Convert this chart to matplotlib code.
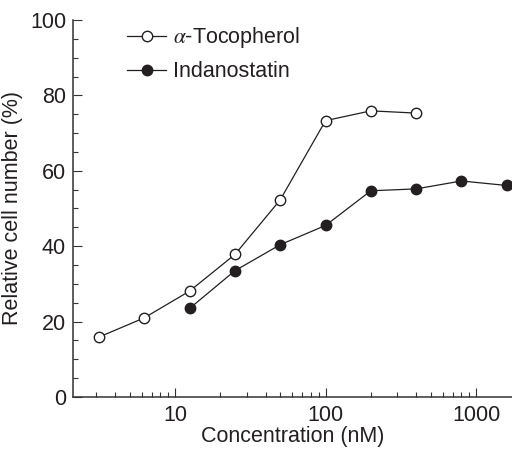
#!/usr/bin/env python3
"""Relative cell number vs concentration for alpha-tocopherol and indanostatin."""

import matplotlib

matplotlib.use("Agg")
import matplotlib.pyplot as plt  # noqa: E402
from matplotlib.ticker import LogLocator, MultipleLocator, NullFormatter  # noqa: E402

plt.rcParams["font.family"] = ["Liberation Sans", "DejaVu Sans"]
plt.rcParams["mathtext.fontset"] = "stix"

TOCO_CONC = [3.125, 6.25, 12.5, 25, 50, 100, 200, 400]
TOCO_VALUES = [15.9, 21.0, 28.1, 37.8, 52.3, 73.3, 75.9, 75.3]
INDA_CONC = [12.5, 25, 50, 100, 200, 400, 800, 1600]
INDA_VALUES = [23.5, 33.5, 40.4, 45.5, 54.7, 55.2, 57.3, 56.1]

INK = "#231f20"
FS = 15.5

fig = plt.figure(figsize=(5.12, 4.49), dpi=100)
ax = fig.add_axes([0.1426, 0.1158, 0.8574, 0.8397])

ax.plot(TOCO_CONC, TOCO_VALUES, "-o", color=INK, lw=0.9, ms=7.5,
        mfc="white", mec=INK, mew=1.0, label=r"$\alpha$-Tocopherol", clip_on=False)
ax.plot(INDA_CONC, INDA_VALUES, "-o", color=INK, lw=0.9, ms=7.5,
        mfc=INK, mec=INK, mew=1.0, label="Indanostatin")

ax.set_xscale("log")
ax.set_xlim(2.1, 1733)
ax.set_ylim(0, 100)
ax.xaxis.set_minor_locator(LogLocator(base=10, subs=range(2, 10), numticks=20))
ax.xaxis.set_minor_formatter(NullFormatter())
ax.set_xticks([10, 100, 1000])
ax.set_xticklabels(["10", "100", "1000"])
ax.yaxis.set_major_locator(MultipleLocator(20))
ax.yaxis.set_minor_locator(MultipleLocator(5))

for side in ("top", "right"):
    ax.spines[side].set_visible(False)
for side in ("left", "bottom"):
    ax.spines[side].set_linewidth(1.1)
    ax.spines[side].set_color("#333333")

ax.tick_params(which="major", direction="in", length=6.5, width=0.8,
               color="#333333", labelsize=FS, labelcolor=INK)
ax.tick_params(which="minor", direction="in", length=3.6, width=0.8, color="#333333")
ax.tick_params(axis="x", pad=6)
ax.tick_params(axis="y", pad=5)

ax.set_xlabel("Concentration (nM)", fontsize=FS, color=INK, labelpad=0)
ax.set_ylabel("Relative cell number (%)", fontsize=FS, color=INK, labelpad=5)

ax.legend(loc="upper left", bbox_to_anchor=(0.078, 1.037), frameon=False,
          fontsize=FS, handlelength=1.85, handletextpad=0.3, labelspacing=0.5,
          labelcolor=INK)

fig.savefig("out.png", dpi=100)
